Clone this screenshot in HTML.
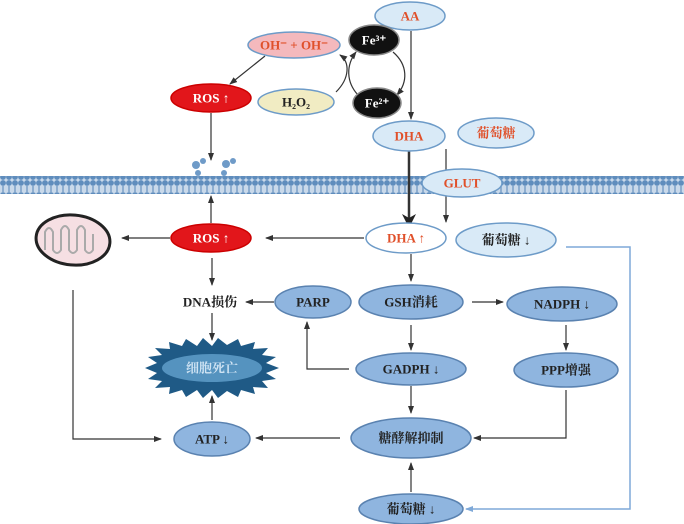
<!DOCTYPE html>
<html><head><meta charset="utf-8"><style>
html,body{margin:0;padding:0;background:#fff}
svg{display:block}
text{font-family:"Liberation Serif","Noto Serif CJK SC",serif;font-weight:bold;font-size:13px;text-anchor:middle;dominant-baseline:central}
</style></head><body>
<svg width="684" height="524" viewBox="0 0 684 524">
<defs>
<marker id="ar" markerWidth="8" markerHeight="8" refX="7" refY="4" orient="auto" markerUnits="userSpaceOnUse"><path d="M0,1 L8,4 L0,7 Z" fill="#333"/></marker>
<marker id="arb" markerWidth="8" markerHeight="8" refX="7" refY="4" orient="auto" markerUnits="userSpaceOnUse"><path d="M0,1 L8,4 L0,7 Z" fill="#7fa9d8"/></marker>
<marker id="arB" markerWidth="14" markerHeight="14" refX="12" refY="7" orient="auto" markerUnits="userSpaceOnUse"><path d="M0,0 L14,7 L0,14 L4,7 Z" fill="#222"/></marker>
<pattern id="mem" width="6" height="18" patternUnits="userSpaceOnUse">
<circle cx="3" cy="3" r="2.9" fill="#5f8dbd"/><circle cx="3" cy="15" r="2.9" fill="#5f8dbd"/>
<rect x="2.2" y="5" width="1.6" height="8" fill="#7fa3c9"/>
</pattern>
</defs>
<!-- membrane -->
<rect x="0" y="176" width="684" height="18" fill="#c9d9ea"/>
<rect x="0" y="176" width="684" height="18" fill="url(#mem)"/>
<g fill="#6f9bc8">
<circle cx="196" cy="165" r="4"/><circle cx="203" cy="161" r="3"/><circle cx="226" cy="164" r="4"/><circle cx="233" cy="161" r="3"/>
<circle cx="198" cy="173" r="3"/><circle cx="224" cy="173" r="3"/>
</g>
<g stroke="#333" stroke-width="1.2" fill="none">
<line x1="411" y1="31" x2="411" y2="119" marker-end="url(#ar)"/>
<line x1="409" y1="151" x2="409" y2="226" stroke-width="2.5" marker-end="url(#arB)"/>
<line x1="446" y1="149" x2="446" y2="222" marker-end="url(#ar)"/>
<line x1="265" y1="56" x2="230" y2="84" marker-end="url(#ar)"/>
<line x1="211" y1="113" x2="211" y2="160" marker-end="url(#ar)"/>
<line x1="211" y1="223" x2="211" y2="196" marker-end="url(#ar)"/>
<line x1="364" y1="238" x2="266" y2="238" marker-end="url(#ar)"/>
<line x1="170" y1="238" x2="122" y2="238" marker-end="url(#ar)"/>
<polyline points="73,290 73,439 161,439" marker-end="url(#ar)"/>
<line x1="212" y1="258" x2="212" y2="285" marker-end="url(#ar)"/>
<line x1="212" y1="313" x2="212" y2="340" marker-end="url(#ar)"/>
<line x1="212" y1="420" x2="212" y2="396" marker-end="url(#ar)"/>
<line x1="411" y1="254" x2="411" y2="281" marker-end="url(#ar)"/>
<line x1="472" y1="302" x2="503" y2="302" marker-end="url(#ar)"/>
<line x1="274" y1="302" x2="246" y2="302" marker-end="url(#ar)"/>
<polyline points="349,369 307,369 307,322" marker-end="url(#ar)"/>
<line x1="411" y1="325" x2="411" y2="350" marker-end="url(#ar)"/>
<line x1="411" y1="386" x2="411" y2="413" marker-end="url(#ar)"/>
<line x1="566" y1="325" x2="566" y2="350" marker-end="url(#ar)"/>
<polyline points="566,390 566,438 474,438" marker-end="url(#ar)"/>
<line x1="340" y1="438" x2="256" y2="438" marker-end="url(#ar)"/>
<line x1="411" y1="492" x2="411" y2="463" marker-end="url(#ar)"/>
<path d="M336,92 C350,78 350,62 340,55" marker-end="url(#ar)"/>
<path d="M393,52 C408,65 408,82 397,95" marker-end="url(#ar)"/>
<path d="M358,95 C346,82 346,65 356,52" marker-end="url(#ar)"/>
</g>
<polyline points="566,247 630,247 630,509 466,509" fill="none" stroke="#7fa9d8" stroke-width="1.5" marker-end="url(#arb)"/>
<!-- nodes -->
<g stroke="#6d9bc8" stroke-width="1.5">
<ellipse cx="410" cy="16" rx="35" ry="14" fill="#d9eaf7"/>
<ellipse cx="294" cy="45" rx="46" ry="13" fill="#f4b9bd"/>
<ellipse cx="374" cy="40" rx="25" ry="15" fill="#111" stroke="#888"/>
<ellipse cx="377" cy="103" rx="24" ry="15" fill="#111" stroke="#888"/>
<ellipse cx="211" cy="98" rx="40" ry="14" fill="#e2161b" stroke="#c00"/>
<ellipse cx="296" cy="102" rx="38" ry="13" fill="#f1ecc3"/>
<ellipse cx="409" cy="136" rx="36" ry="15" fill="#d9eaf7"/>
<ellipse cx="496" cy="133" rx="38" ry="15" fill="#d9eaf7"/>
<ellipse cx="462" cy="183" rx="40" ry="14" fill="#d9eaf7"/>
<ellipse cx="211" cy="238" rx="40" ry="14" fill="#e2161b" stroke="#c00"/>
<ellipse cx="406" cy="238" rx="40" ry="15" fill="#fff"/>
<ellipse cx="506" cy="240" rx="50" ry="17" fill="#d9eaf7"/>
</g>
<g stroke="#5a82b0" stroke-width="1.5" fill="#8fb5df">
<ellipse cx="313" cy="302" rx="38" ry="16"/>
<ellipse cx="411" cy="302" rx="52" ry="17"/>
<ellipse cx="562" cy="304" rx="55" ry="17"/>
<ellipse cx="411" cy="369" rx="55" ry="16"/>
<ellipse cx="566" cy="370" rx="52" ry="17"/>
<ellipse cx="212" cy="439" rx="38" ry="17"/>
<ellipse cx="411" cy="438" rx="60" ry="20"/>
<ellipse cx="411" cy="509" rx="52" ry="15"/>
</g>
<!-- mitochondria -->
<g>
<ellipse cx="73" cy="240" rx="37" ry="25" fill="#f6dfe3" stroke="#222" stroke-width="3" transform="rotate(5 73 240)"/>
<path d="M45,250 V232 Q49,224 53,232 V250 Q57,256 61,250 V230 Q65,222 69,230 V250 Q73,256 77,250 V230 Q81,222 85,230 V250 Q89,256 93,250 V234" fill="none" stroke="#aaa" stroke-width="2"/>
</g>
<!-- cell death starburst -->
<polygon fill="#1f5a86" points="279,368 266,373 276,379 262,381 268,388 253,387 255,394 241,390 238,397 227,391 218,398 212,390 203,398 197,390 186,397 182,390 169,394 170,387 155,388 162,381 148,379 157,373 145,368 157,363 148,357 162,355 155,348 170,349 169,342 182,346 186,339 197,346 203,338 212,346 218,338 227,345 238,339 241,346 255,342 253,349 268,348 262,355 276,357 266,363"/>
<ellipse cx="212" cy="368" rx="50" ry="14" fill="#5f9dc9" opacity="0.85"/>
<!-- labels -->
<g fill="#e0502a">
<text x="410" y="16">AA</text>
<text x="294" y="45" font-size="12">OH⁻ + OH⁻</text>
<text x="409" y="136">DHA</text>
<text x="496" y="133">葡萄糖</text>
<text x="462" y="183">GLUT</text>
<text x="406" y="238">DHA ↑</text>
</g>
<g fill="#fff">
<text x="374" y="40">Fe³⁺</text>
<text x="377" y="103">Fe²⁺</text>
<text x="211" y="98">ROS ↑</text>
<text x="211" y="238">ROS ↑</text>
<text x="212" y="368" fill="#cfe3f3">细胞死亡</text>
</g>
<g fill="#222">
<text x="296" y="102" font-weight="normal">H₂O₂</text>
<text x="506" y="240">葡萄糖 ↓</text>
<text x="210" y="302" font-weight="normal">DNA损伤</text>
<text x="313" y="302">PARP</text>
<text x="411" y="302">GSH消耗</text>
<text x="562" y="304">NADPH ↓</text>
<text x="411" y="369">GADPH ↓</text>
<text x="566" y="370">PPP增强</text>
<text x="212" y="439">ATP ↓</text>
<text x="411" y="438">糖酵解抑制</text>
<text x="411" y="509">葡萄糖 ↓</text>
</g>
</svg>
</body></html>
